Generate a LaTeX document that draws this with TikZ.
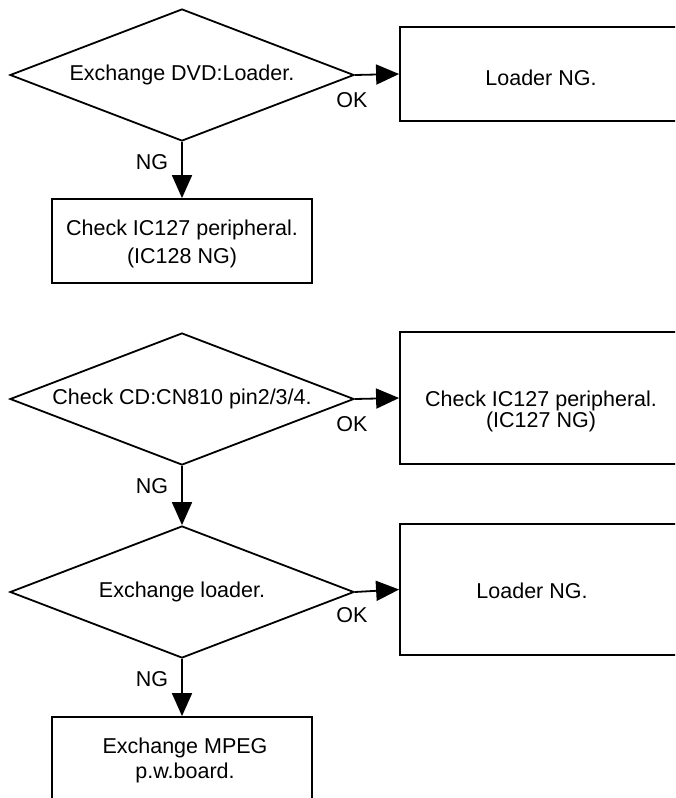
\documentclass[tikz,border=0pt]{standalone}
\usepackage{fontspec}
\setmainfont{Liberation Sans}
\usetikzlibrary{arrows.meta}
\usetikzlibrary{shapes.geometric}
\tikzset{>={Triangle[length=23pt,width=20pt]}}
\tikzset{
  check/.style={diamond, draw, aspect=2.6, inner sep=0pt,
    minimum width=344pt, minimum height=132pt},
  result/.style={rectangle, draw, inner sep=0pt},
  wide/.style={result, minimum width=282pt},
  narrow/.style={result, minimum width=260pt, minimum height=84pt},
}

\begin{document}
\begin{tikzpicture}[x=1pt, y=-1pt, line width=1.8pt,
    every node/.style={font=\fontsize{21.5}{25}\selectfont}]
    \clip (0, 0) rectangle (675, 798);
    \fill[white] (0, 0) rectangle (675, 798);

    % Draw the DVD loader check.
    \node[check] (dvd) at (182, 75) {Exchange DVD:Loader.};
    \node[wide, minimum height=94pt] (dvdok) at (541, 74) {};
    \node at ([yshift=-4pt]dvdok.center) {Loader NG.};
    \node[narrow] (dvdng) at (182, 241) {};
    \node[align=center, font=\fontsize{21.5}{28}\selectfont]
      at ([yshift=-3pt]dvdng.center) {Check IC127 peripheral.\\(IC128 NG)};
    \draw[->] (dvd.east) -- (dvdok.west) node[pos=0, xshift=-3pt, yshift=-25pt] {OK};
    \draw[->] (dvd.south) -- (dvdng.north) node[pos=0, xshift=-30pt, yshift=-20pt] {NG};

    % Draw the CD connector check.
    \node[check] (cn) at (182, 399) {Check CD:CN810 pin2/3/4.};
    \node[wide, minimum height=132pt] (cnok) at (541, 398) {};
    \node[align=center, font=\fontsize{21.5}{18}\selectfont]
      at ([yshift=-13pt]cnok.center) {Check IC127 peripheral.\\(IC127 NG)};
    \draw[->] (cn.east) -- (cnok.west) node[pos=0, xshift=-3pt, yshift=-25pt] {OK};

    % Draw the loader exchange.
    \node[check] (ld) at (182, 592) {Exchange loader.};
    \node[wide, minimum height=131pt] (ldok) at (541, 589.5) {};
    \node at ([xshift=-9pt, yshift=-1pt]ldok.center) {Loader NG.};
    \node[narrow] (ldng) at (182, 759) {};
    \node[align=center] at ([xshift=3pt, yshift=-1pt]ldng.center) {Exchange MPEG\\p.w.board.};
    \draw[->] (cn.south) -- (ld.north) node[pos=0, xshift=-30pt, yshift=-20pt] {NG};
    \draw[->] (ld.east) -- (ldok.west) node[pos=0, xshift=-3pt, yshift=-23pt] {OK};
    \draw[->] (ld.south) -- (ldng.north) node[pos=0, xshift=-30pt, yshift=-20pt] {NG};
\end{tikzpicture}
\end{document}
